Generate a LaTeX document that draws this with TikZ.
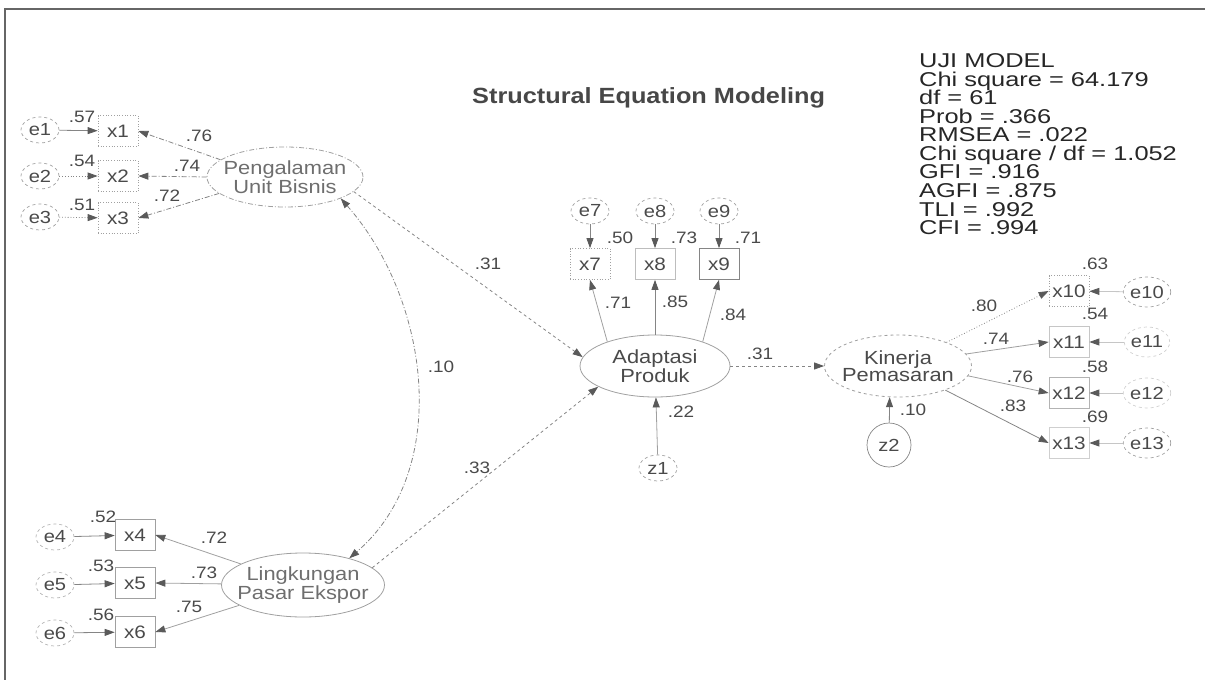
\documentclass[tikz,border=0pt]{standalone}
\usepackage{fontspec}
\setmainfont[FakeStretch=1.15]{Liberation Sans}
\newfontfamily\statfont[FakeStretch=1.27]{Liberation Sans}
\usetikzlibrary{arrows.meta,shapes.geometric}
\definecolor{lg}{HTML}{A0A0A0}
\definecolor{mg}{HTML}{858585}
\definecolor{hd}{HTML}{5A5A5A}
\definecolor{tx}{HTML}{4A4A4A}
\definecolor{tl}{HTML}{6E6E6E}
\definecolor{dk}{HTML}{262626}
\newcommand\myfs[2]{\fontsize{#1}{#2}\selectfont}
\tikzset{
  latent/.style={ellipse, draw=lg, line width=0.8pt, inner sep=0pt},
  lattext/.style={align=center, text=tl, font=\myfs{19}{17.5}, inner sep=0pt},
  indic/.style={rectangle, draw=lg, line width=0.7pt, minimum width=40pt, minimum height=31pt, inner sep=0pt, text=tx, font=\myfs{18}{18}},
  err/.style={ellipse, draw=lg, dashed, line width=0.7pt, minimum width=38pt, minimum height=26pt, inner sep=0pt, text=tx, font=\myfs{17.5}{17.5}},
  arr/.style={draw=mg, line width=0.8pt, -{Triangle[length=10pt,width=7pt,color=hd]}},
  dsh/.style={dash pattern=on 5pt off 2pt on 1pt off 2pt},
  both/.style={draw=mg, line width=0.8pt, {Triangle[length=10pt,width=7pt,color=hd]}-{Triangle[length=10pt,width=7pt,color=hd]}},
  coef/.style={text=tx, font=\myfs{16.5}{16.5}, inner sep=0pt},
}
\begin{document}
\begin{tikzpicture}[x=1pt,y=-1pt]
\path[use as bounding box] (0,0) rectangle (1205,680);
\draw[line width=1.8pt, draw=black!60] (5,680) -- (5,9) -- (1205,9);

% title and statistics
\node[anchor=base west, inner sep=0pt, text=black!72, font=\bfseries\myfs{22}{22}] (title) at (472,103) {Structural Equation Modeling};
\node[anchor=north west, inner sep=0pt, align=left, text=dk,
      font={\statfont\fontsize{20}{18.55}\selectfont\lineskiplimit=-60pt}] (stats) at (919,53.5)
  {UJI MODEL\\Chi square = 64.179\\df = 61\\Prob = .366\\RMSEA = .022\\Chi square / df = 1.052\\GFI = .916\\AGFI = .875\\TLI = .992\\CFI = .994};

% Pengalaman Unit Bisnis
\node[latent, dsh, minimum width=156pt, minimum height=60pt] (PUB) at (285,177) {};
\node[lattext] (PUBt) at (PUB) {Pengalaman\\Unit Bisnis};
\node[err] (e1) at (40,130) {e1};
\node[err] (e2) at (40,176) {e2};
\node[err] (e3) at (40,217) {e3};
\node[indic, dotted] (x1) at (118,131) {x1};
\node[indic, dotted] (x2) at (118,176) {x2};
\node[indic, dotted] (x3) at (118,218) {x3};
\draw[arr] (e1) -- (x1);
\draw[arr, dotted] (e2) -- (x2);
\draw[arr, dotted] (e3) -- (x3);
\draw[arr, dsh] (PUB.165) -- (x1.east);
\draw[arr, dsh] (PUB.180) -- (x2.east);
\draw[arr, dsh] (PUB.194) -- (x3.east);
\node[coef] (c57) at (82,117) {.57};
\node[coef] (c54) at (82,161) {.54};
\node[coef] (c51) at (82,205) {.51};
\node[coef] (c76) at (199,136) {.76};
\node[coef] (c74) at (187,166) {.74};
\node[coef] (c72) at (167,196) {.72};

% Lingkungan Pasar Ekspor
\node[latent, minimum width=163pt, minimum height=64pt] (L) at (303,585) {};
\node[lattext] (Lt) at (L) {Lingkungan\\Pasar Ekspor};
\node[err, draw=lg!80] (e4) at (55,537) {e4};
\node[err, draw=lg!80] (e5) at (55,585) {e5};
\node[err, draw=lg!80] (e6) at (55,633) {e6};
\node[indic] (x4) at (135,535) {x4};
\node[indic] (x5) at (135,583) {x5};
\node[indic] (x6) at (135,632) {x6};
\draw[arr] (e4) -- (x4);
\draw[arr] (e5) -- (x5);
\draw[arr] (e6) -- (x6);
\draw[arr, draw=lg] (L) -- (x4.east);
\draw[arr, draw=lg] (L) -- (x5.east);
\draw[arr, draw=lg] (L) -- (x6.east);
\node[coef] (c52) at (103,517) {.52};
\node[coef] (c53) at (101,566) {.53};
\node[coef] (c56) at (101,615) {.56};
\node[coef] (c72b) at (214,538) {.72};
\node[coef] (c73) at (204,573) {.73};
\node[coef] (c75) at (189,607) {.75};

% Adaptasi Produk
\node[latent, minimum width=150pt, minimum height=62pt] (AP) at (655,366) {};
\node[lattext, text=tx] (APt) at (AP) {Adaptasi\\Produk};
\node[err] (e7) at (590,211) {e7};
\node[err] (e8) at (655,211) {e8};
\node[err] (e9) at (719,211) {e9};
\node[indic, dotted] (x7) at (590,264) {x7};
\node[indic, draw=lg!70] (x8) at (655,264) {x8};
\node[indic, draw=mg] (x9) at (719,264) {x9};
\draw[arr] (e7) -- (x7.north);
\draw[arr] (e8) -- (x8.north);
\draw[arr] (e9) -- (x9.north);
\draw[arr, draw=lg] (AP.153) -- (x7.south);
\draw[arr] (AP.90) -- (x8.south);
\draw[arr, draw=lg] (AP.27) -- (x9.south);
\node[err] (z1) at (658,468) {z1};
\draw[arr, draw=lg] (z1) -- (AP);
\node[coef] (c50) at (620,238) {.50};
\node[coef] (c73b) at (684,238) {.73};
\node[coef] (c71b) at (748,238) {.71};
\node[coef] (c71) at (618,303) {.71};
\node[coef] (c85) at (675,302) {.85};
\node[coef] (c84) at (733,315) {.84};
\node[coef] (c22) at (681,412) {.22};

% structural paths
\draw[arr, dashed] (PUB.-12) -- (AP.173);
\draw[arr, dashed] (L.14) -- (AP.200);
\draw[both, dsh] (PUB.-21) .. controls (430,300) and (452,470) .. (L.30);
\node[coef] (c31a) at (488,264) {.31};
\node[coef] (c10a) at (441,367) {.10};
\node[coef] (c33) at (477,468) {.33};

% Kinerja Pemasaran
\node[latent, dashed, minimum width=147pt, minimum height=62pt] (KP) at (898,366) {};
\node[lattext, text=tx] (KPt) at (KP) {Kinerja\\Pemasaran};
\draw[arr, dashed] (AP) -- (KP);
\node[coef] (c31b) at (760,354) {.31};
\node[err, draw=mg, solid, minimum width=44pt, minimum height=44pt] (z2) at (889,445) {z2};
\draw[arr] (z2) -- (KP.255);
\node[coef] (c10b) at (913,410) {.10};
\node[indic, dotted] (x10) at (1069,291) {x10};
\node[indic, draw=lg!60] (x11) at (1069,342) {x11};
\node[indic, draw=lg!80] (x12) at (1069,393) {x12};
\node[indic, draw=lg!50] (x13) at (1069,443) {x13};
\node[err, minimum height=30pt] (e10) at (1147,292) {e10};
\node[err, minimum height=30pt, draw=lg!50] (e11) at (1147,342) {e11};
\node[err, minimum height=30pt, draw=lg!50] (e12) at (1147,393) {e12};
\node[err, minimum height=30pt] (e13) at (1147,443) {e13};
\draw[arr, draw=lg!60] (e10) -- (x10);
\draw[arr, draw=lg!60] (e11) -- (x11);
\draw[arr, draw=lg!60] (e12) -- (x12);
\draw[arr, draw=lg!60] (e13) -- (x13);
\draw[arr, dotted] (KP.26) -- (x10.west);
\draw[arr, draw=lg] (KP.10) -- (x11.west);
\draw[arr, draw=lg] (KP.-8) -- (x12.west);
\draw[arr] (KP.-27) -- (x13.west);
\node[coef] (c63) at (1095,264) {.63};
\node[coef] (c54b) at (1095,314) {.54};
\node[coef] (c58) at (1095,367) {.58};
\node[coef] (c69) at (1095,417) {.69};
\node[coef] (c80) at (984,306) {.80};
\node[coef] (c74b) at (996,339) {.74};
\node[coef] (c76b) at (1020,377) {.76};
\node[coef] (c83) at (1013,406) {.83};
\end{tikzpicture}
\end{document}
